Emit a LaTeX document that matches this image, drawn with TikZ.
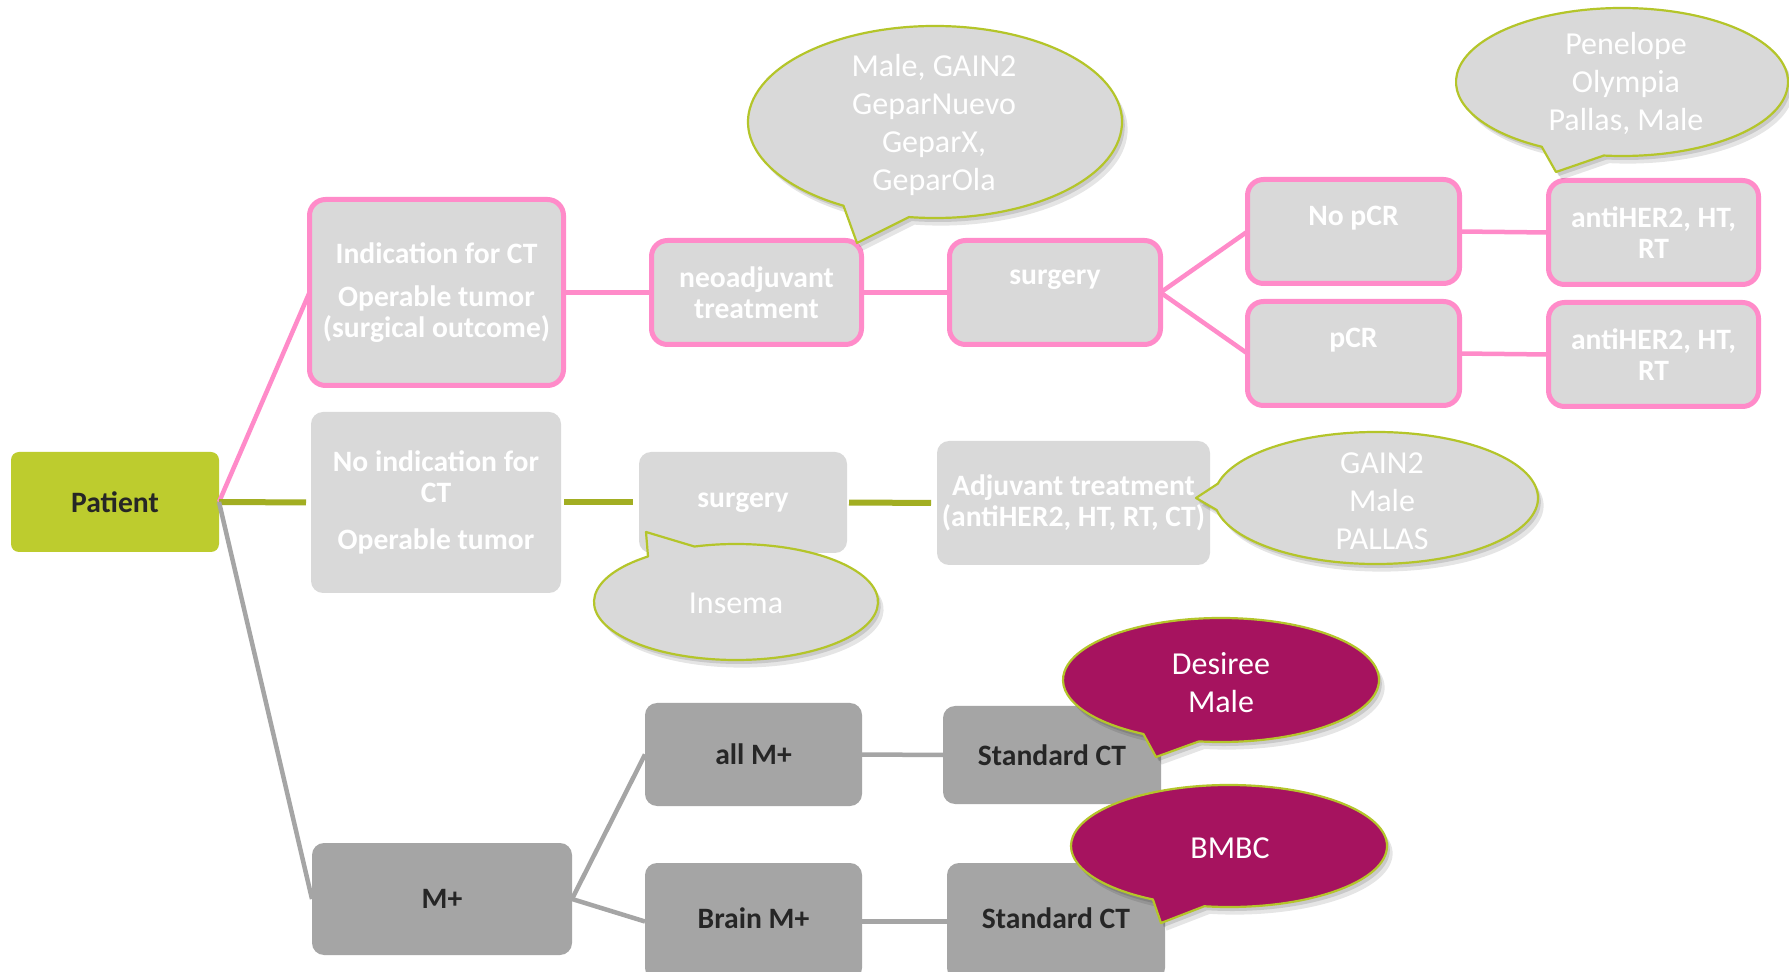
\documentclass[tikz,border=0pt]{standalone}
\usepackage{fontspec}
\setmainfont{Carlito}
\definecolor{pinkc}{HTML}{FF8BC9}
\definecolor{lgray}{HTML}{D9D9D9}
\definecolor{mgray}{HTML}{A5A5A5}
\definecolor{olivefill}{HTML}{BDCC2E}
\definecolor{oliveline}{HTML}{A2AE22}
\definecolor{oliveedge}{HTML}{B4C52A}
\definecolor{magentac}{HTML}{A6135F}
\definecolor{darktext}{HTML}{262626}

% speech bubble: #1 fill, #2 #3 centre, #4 #5 radii, #6 start angle, #7 end angle, #8 #9 tip
\newcommand\bubble[9]{%
  \fill[black,opacity=.10,shift={(2.8pt,-3.8pt)}] (#2,#3) ++(#6:#4 and #5)
    arc[start angle=#6,end angle=#7,x radius=#4,y radius=#5] -- (#8,#9) -- cycle;
  \fill[black,opacity=.12,shift={(1.4pt,-2pt)}] (#2,#3) ++(#6:#4 and #5)
    arc[start angle=#6,end angle=#7,x radius=#4,y radius=#5] -- (#8,#9) -- cycle;
  \filldraw[fill=#1,draw=oliveedge,line width=1.1pt,line join=round] (#2,#3) ++(#6:#4 and #5)
    arc[start angle=#6,end angle=#7,x radius=#4,y radius=#5] -- (#8,#9) -- cycle;
}

\begin{document}
\begin{tikzpicture}[x=0.5pt,y=-0.5pt,
  every node/.style={inner sep=0pt,outer sep=0pt},
  basebox/.style={rectangle,align=center,font=\bfseries\fontsize{14.8}{15.5}\selectfont},
  pinkbox/.style={basebox,draw=pinkc,line width=2.5pt,rounded corners=8pt,fill=lgray,text=white},
  lightbox/.style={basebox,rounded corners=6pt,fill=lgray,text=white},
  darkbox/.style={basebox,rounded corners=6pt,fill=mgray,text=darktext},
  patientbox/.style={basebox,rounded corners=4pt,fill=olivefill,text=darktext},
  pinkline/.style={draw=pinkc,line width=2.25pt},
  olivelink/.style={draw=oliveline,line width=3pt},
  graylink/.style={draw=mgray,line width=2.25pt},
  bubtxt/.style={align=center,text=white,font=\fontsize{16}{19}\selectfont}
]
\fill[white] (0,0) rectangle (1789,972);
\clip (0,0) rectangle (1789,972);

% root
\node[patientbox,minimum width=104pt,minimum height=50pt] (patient) at (115,502) {Patient};

% branch: indication for chemotherapy
\node[pinkbox,minimum width=127pt,minimum height=93pt] (ind) at (436.5,292.5)
  {Indication for CT\\[6pt]Operable tumor\\(surgical outcome)};
\node[pinkbox,minimum width=105pt,minimum height=52pt] (neo) at (756.5,292.5) {neoadjuvant\\treatment};
\node[pinkbox,minimum width=105.5pt,minimum height=52pt] (surgA) at (1055,292.5) {surgery\\\mbox{}};
\node[pinkbox,minimum width=106pt,minimum height=52pt] (nopcr) at (1353.5,231.5) {No pCR\\\mbox{}};
\node[pinkbox,minimum width=106pt,minimum height=52pt] (pcr) at (1353.5,353.5) {pCR\\\mbox{}};
\node[pinkbox,minimum width=105pt,minimum height=52pt] (antiA) at (1653.5,232.5) {antiHER2, HT,\\RT};
\node[pinkbox,minimum width=105pt,minimum height=52pt] (antiB) at (1653.5,354.5) {antiHER2, HT,\\RT};

% branch: no indication for chemotherapy
\node[lightbox,minimum width=125pt,minimum height=90.5pt] (noind) at (436,502.5)
  {No indication for\\CT\\[8pt]Operable tumor};
\node[lightbox,minimum width=104pt,minimum height=50.5pt] (surgB) at (743,502.5) {surgery};
\node[lightbox,minimum width=136.5pt,minimum height=62pt] (adj) at (1073.5,503)
  {Adjuvant treatment\\(antiHER2, HT, RT, CT)};

% branch: metastatic
\node[darkbox,minimum width=130pt,minimum height=56pt] (mplus) at (442,899) {M+};
\node[darkbox,minimum width=108.5pt,minimum height=51.5pt] (allm) at (753.5,754.5) {all M+};
\node[darkbox,minimum width=109pt,minimum height=49pt] (stdA) at (1052,755) {Standard CT};
\node[darkbox,minimum width=108.5pt,minimum height=58.5pt] (brain) at (753.5,921.5) {\raisebox{3.5pt}{Brain M+}};
\node[darkbox,minimum width=109pt,minimum height=58.5pt] (stdB) at (1056,921.5) {\raisebox{3.5pt}{Standard CT}};

% connectors
\draw[pinkline] (patient.east) -- (ind.west);
\draw[pinkline] (ind.east) -- (neo.west);
\draw[pinkline] (neo.east) -- (surgA.west);
\draw[pinkline] (surgA.east) -- (nopcr.west);
\draw[pinkline] (surgA.east) -- (pcr.west);
\draw[pinkline] (nopcr.east) -- (antiA.west);
\draw[pinkline] (pcr.east) -- (antiB.west);

\draw[olivelink,shorten >=2.5pt] (patient.east) -- (noind.west);
\draw[olivelink,shorten <=1.5pt,shorten >=3pt] (noind.east) -- (surgB.west);
\draw[olivelink,shorten <=1pt,shorten >=3pt] (surgB.east) -- (adj.west);

\draw[graylink] (patient.east) -- (mplus.west);
\draw[graylink] (mplus.east) -- (allm.west);
\draw[graylink] (mplus.east) -- (brain.west);
\draw[graylink] (allm.east) -- (stdA.west);
\draw[graylink] (brain.east) -- (stdB.west);

% speech bubbles
\bubble{lgray}{935}{122}{187}{96}{98}{-240.7}{857}{243}
\bubble{lgray}{1622}{82}{166}{74}{96.3}{-241.1}{1556}{172}
\bubble{lgray}{1376}{498}{162}{66}{169.5}{-167.4}{1196}{498}
\bubble{lgray}{736}{602}{142}{58}{231.7}{-107}{646}{532}
\bubble{magentac}{1221}{680}{158}{62}{98}{-240.6}{1156}{757}
\bubble{magentac}{1229}{846}{158}{61}{99}{-241.2}{1161}{923}

\node[bubtxt] (tneo) at (934,124.5) {Male, GAIN2\\GeparNuevo\\GeparX,\\GeparOla};
\node[bubtxt] (tpost) at (1626,83.5) {Penelope\\Olympia\\Pallas, Male};
\node[bubtxt] (tadj) at (1382,501) {GAIN2\\Male\\PALLAS};
\node[bubtxt] (tsurg) at (736,603) {Insema};
\node[bubtxt] (tall) at (1221,682.5) {Desiree\\Male};
\node[bubtxt] (tbrain) at (1230,848) {BMBC};
\end{tikzpicture}
\end{document}
